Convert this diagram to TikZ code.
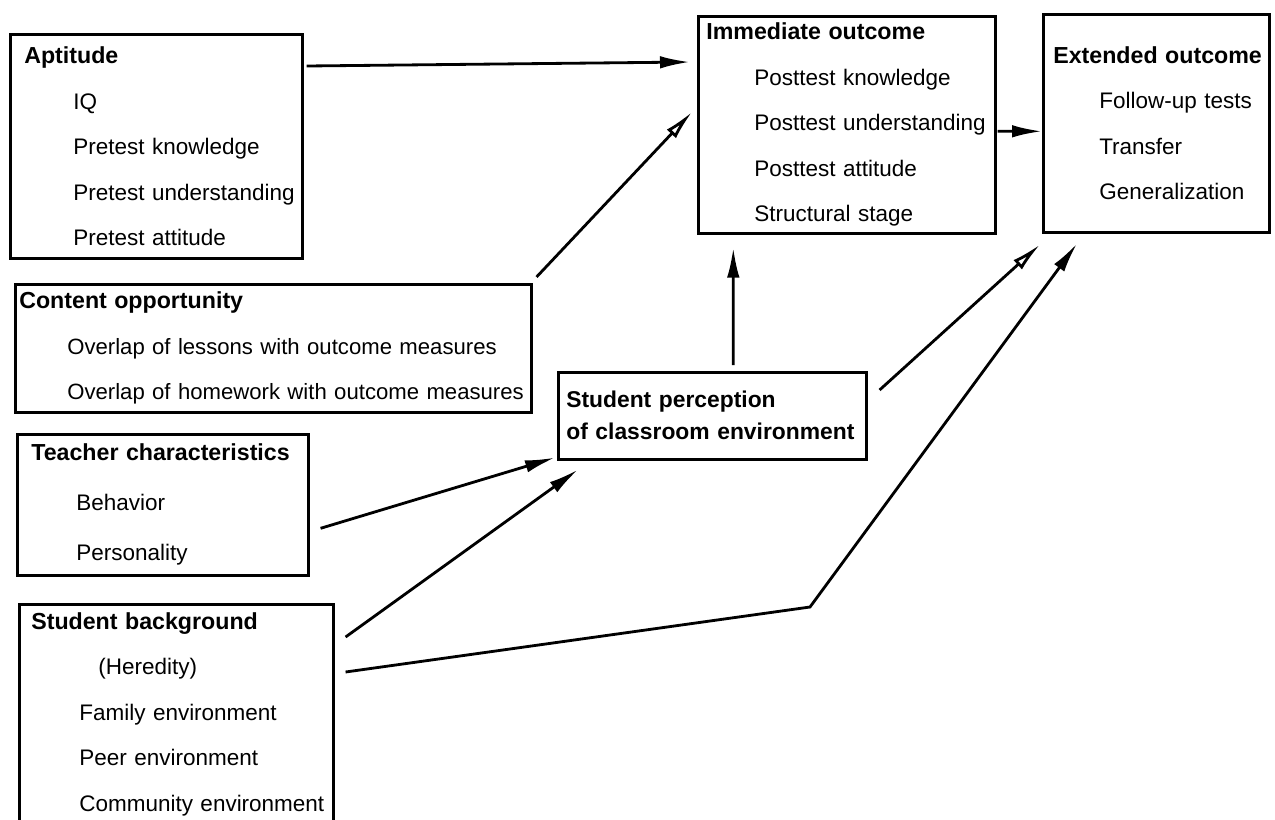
\documentclass[tikz,border=0pt]{standalone}
\usepackage{fontspec}
\setmainfont{Liberation Sans}
\usetikzlibrary{arrows.meta,calc}

\newcommand{\hd}[1]{{\fontsize{13.2}{26}\selectfont\bfseries #1}}

\begin{document}
\begin{tikzpicture}[
  x=0.02cm, y=-0.02cm,
  box/.style={rectangle, draw, line width=1.5pt, anchor=north west, inner xsep=0pt, inner ysep=2pt, align=left, font=\fontsize{12.8}{25.9}\selectfont},
  arrow/.style={-{Latex[length=0.6cm,width=0.25cm]}, line width=1.6pt},
  openarrow/.style={-{Latex[open,length=0.6cm,width=0.25cm]}, line width=1.6pt}
]
\useasboundingbox (0,0) rectangle (1275,819);

% Nodes
\node[box, text width=5.84cm, minimum height=4.48cm] (apt) at (9,33) {\hspace*{0.28cm}\hd{Aptitude}\\ \hspace*{1.26cm}IQ\\ \hspace*{1.26cm}Pretest knowledge\\ \hspace*{1.26cm}Pretest understanding\\ \hspace*{1.26cm}Pretest attitude};
\node[box, text width=5.94cm, minimum height=4.34cm] (imm) at (697,15) {\hspace*{0.16cm}\hd{Immediate outcome}\\ \hspace*{1.12cm}Posttest knowledge\\ \hspace*{1.12cm}Posttest understanding\\ \hspace*{1.12cm}Posttest attitude\\ \hspace*{1.12cm}Structural stage};
\node[box, text width=4.52cm, minimum height=4.36cm] (ext) at (1042,13) {\hspace*{0.2cm}\hd{Extended outcome}\\ \hspace*{1.12cm}Follow-up tests\\ \hspace*{1.12cm}Transfer\\ \hspace*{1.12cm}Generalization};
\node[box, text width=10.32cm, minimum height=2.56cm, font=\fontsize{12.6}{25.9}\selectfont] (cont) at (14,283) {\hspace*{0.08cm}\hd{Content opportunity}\\ \hspace*{1.04cm}Overlap of lessons with outcome measures\\ \hspace*{1.04cm}Overlap of homework with outcome measures};
\node[box, text width=5.82cm, minimum height=2.82cm, font=\fontsize{12.8}{28.4}\selectfont] (teach) at (16,433) {\hspace*{0.28cm}\hd{Teacher characteristics}\\ \hspace*{1.18cm}Behavior\\ \hspace*{1.18cm}Personality};
\node[box, text width=6.16cm, minimum height=1.74cm, font=\fontsize{13}{18.2}\selectfont\bfseries] (perc) at (557,371) {\hspace*{0.16cm}Student perception\\ \hspace*{0.16cm}of classroom environment};
\node[box, text width=6.28cm, minimum height=4.4cm] (bg) at (18,603) {\hspace*{0.24cm}\hd{Student background}\\ \hspace*{1.58cm}(Heredity)\\ \hspace*{1.2cm}Family environment\\ \hspace*{1.2cm}Peer environment\\ \hspace*{1.2cm}Community environment};

\coordinate (bend) at (810,607);

% Arrows
\draw[arrow] ($(apt.north east)+(3,33)$) -- ($(imm.north west)+(-7,47)$);
\draw[openarrow] ($(cont.north east)+(4,-6)$) -- ($(imm.north west)+(-5,97)$);
\draw[arrow] ($(imm.east)+(1,6.5)$) -- ($(ext.west)+(0,8)$);
\draw[arrow] ($(perc.north)+(21,-6)$) -- ($(imm.south)+(-113.5,13)$);
\draw[openarrow] ($(perc.north east)+(12,19)$) -- ($(ext.south west)+(-2,11)$);
\draw[arrow] ($(teach.east)+(11,23.5)$) -- ($(perc.south west)+(-2,-3)$);
\draw[arrow] ($(bg.north east)+(11,34)$) -- ($(perc.south west)+(21,9)$);
\draw[arrow] ($(bg.north east)+(11,69)$) -- (bend) -- ($(ext.south west)+(35,10)$);

\end{tikzpicture}
\end{document}
